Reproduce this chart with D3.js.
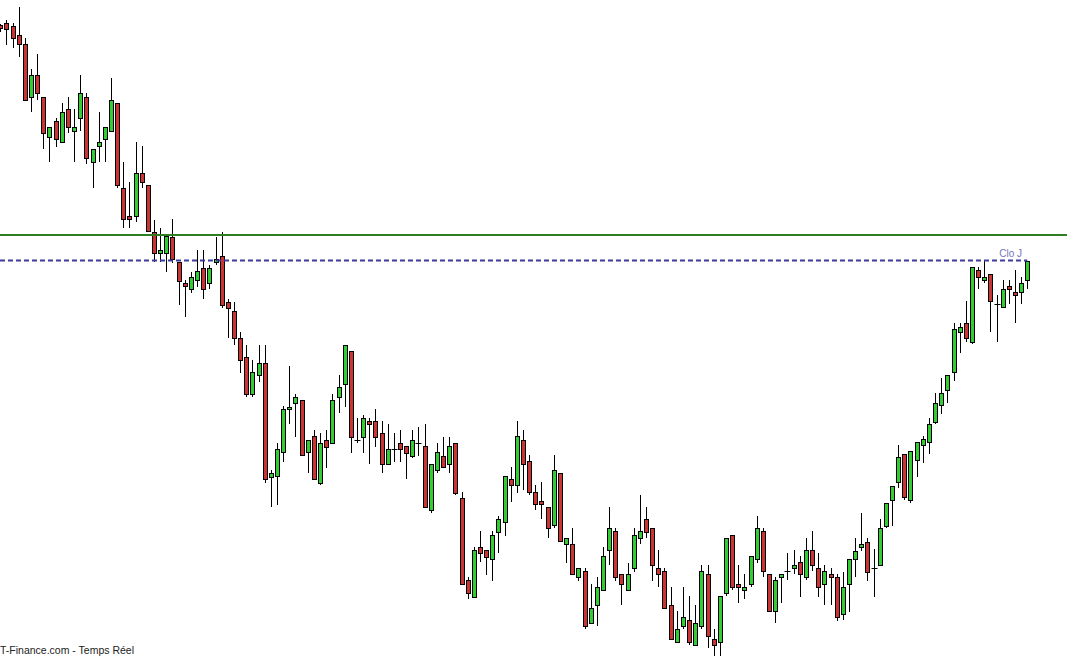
<!DOCTYPE html>
<html><head><meta charset="utf-8">
<script src="https://cdn.jsdelivr.net/npm/d3@7"></script>
<style>html,body{margin:0;padding:0;background:#fff;overflow:hidden}</style>
</head><body>
<svg id="chart" width="1067" height="656"></svg>
<script>
const open = [5975,5977,5974,5965,5956,5903,5925,5903,5863,5879,5858,5891,5869,5882,5903,5838,5854,5861,5869,5897,
5812,5784,5784,5827,5815,5768,5747,5747,5763,5738,5717,5711,5720,5732,5717,5738,5744,5698,5689,5662,
5643,5606,5625,5637,5523,5524,5548,5591,5597,5600,5548,5564,5517,5560,5557,5603,5616,5649,5560,5563,
5579,5579,5567,5536,5551,5557,5554,5544,5557,5554,5490,5530,5544,5536,5557,5502,5420,5403,5453,5450,
5441,5468,5478,5521,5515,5560,5539,5508,5499,5493,5475,5527,5456,5456,5423,5429,5377,5395,5410,5450,
5469,5426,5410,5432,5462,5481,5472,5432,5429,5395,5358,5374,5380,5355,5374,5426,5361,5358,5407,5465,
5416,5410,5416,5441,5469,5426,5389,5423,5429,5432,5438,5423,5450,5432,5416,5426,5423,5386,5416,5441,
5453,5458,5432,5435,5474,5500,5518,5546,5500,5540,5555,5558,5578,5595,5610,5628,5668,5677,5658,5730,
5720,5726,5696,5693,5714,5708,5708,5720];
const high = [5976,5980,5977,5993,5962,5931,5946,5903,5873,5882,5897,5903,5891,5925,5907,5851,5888,5873,5922,5897,
5838,5818,5858,5854,5815,5780,5772,5765,5781,5738,5720,5728,5750,5750,5735,5763,5768,5701,5698,5668,
5655,5640,5655,5655,5530,5557,5594,5634,5606,5600,5560,5570,5567,5570,5606,5625,5655,5649,5582,5585,
5582,5591,5579,5576,5567,5570,5554,5570,5573,5576,5536,5557,5563,5563,5557,5508,5423,5453,5469,5450,
5469,5484,5524,5533,5579,5570,5545,5515,5518,5493,5545,5527,5462,5472,5432,5432,5416,5423,5453,5493,
5472,5426,5437,5472,5505,5493,5472,5450,5432,5413,5389,5413,5404,5395,5435,5435,5371,5404,5462,5465,
5435,5426,5444,5484,5472,5426,5423,5426,5447,5450,5444,5462,5469,5447,5435,5432,5426,5428,5441,5462,
5487,5462,5451,5481,5497,5514,5555,5546,5549,5558,5564,5582,5607,5622,5625,5677,5677,5699,5733,5733,
5739,5726,5705,5720,5720,5730,5723,5739];
const low = [5968,5955,5952,5943,5900,5888,5900,5851,5838,5853,5858,5867,5838,5869,5836,5812,5838,5838,5869,5812,
5772,5772,5778,5812,5769,5738,5738,5728,5737,5695,5683,5707,5713,5701,5711,5735,5692,5662,5655,5627,
5603,5603,5618,5517,5493,5495,5538,5576,5563,5545,5527,5521,5515,5532,5557,5587,5593,5547,5557,5547,
5536,5553,5527,5536,5538,5538,5521,5542,5544,5493,5487,5527,5533,5527,5505,5416,5401,5403,5438,5425,
5419,5447,5464,5498,5507,5510,5505,5490,5481,5462,5472,5459,5437,5426,5419,5371,5377,5374,5410,5435,
5419,5395,5410,5428,5456,5462,5419,5413,5392,5361,5358,5371,5355,5355,5371,5352,5344,5344,5404,5410,
5397,5401,5413,5437,5423,5389,5377,5397,5420,5426,5403,5420,5429,5403,5395,5395,5379,5380,5388,5423,
5449,5419,5403,5435,5472,5474,5512,5500,5497,5523,5537,5546,5576,5586,5597,5619,5647,5658,5656,5711,
5717,5668,5658,5693,5696,5677,5696,5711];
const close = [5972,5971,5962,5956,5900,5925,5907,5867,5873,5861,5888,5873,5873,5907,5842,5851,5858,5873,5900,5815,
5781,5781,5827,5818,5769,5747,5750,5764,5741,5719,5714,5723,5729,5711,5732,5741,5695,5692,5662,5640,
5606,5628,5637,5521,5527,5551,5591,5593,5603,5545,5560,5521,5557,5553,5600,5613,5655,5563,5560,5582,
5576,5563,5536,5551,5551,5551,5547,5560,5557,5493,5536,5548,5533,5554,5507,5416,5407,5450,5447,5443,
5465,5481,5524,5515,5564,5536,5508,5496,5496,5472,5530,5459,5462,5426,5432,5374,5392,5413,5444,5472,
5423,5416,5426,5465,5469,5468,5435,5426,5392,5361,5371,5383,5358,5377,5429,5364,5355,5404,5462,5413,
5413,5413,5444,5472,5429,5389,5420,5426,5429,5435,5426,5450,5435,5413,5429,5423,5383,5413,5441,5449,
5456,5428,5432,5472,5497,5514,5543,5503,5549,5558,5561,5576,5597,5607,5625,5671,5673,5662,5733,5723,
5723,5699,5696,5711,5711,5705,5717,5739];
const resistanceLevel = 5765;
const closeLevel = 5739.5;
const closeLabel = "Clo J";
const sourceLabel = "T-Finance.com - Temps Réel";

const W = 1067, H = 656;
const svg = d3.select("#chart");
const x = d3.scaleLinear().domain([0, open.length - 1]).range([0.3, 1027.3]);
const y = d3.scaleLinear().domain([5344, 6000]).range([656, 0]);

const data = open.map((o, i) => ({i, o, h: high[i], l: low[i], c: close[i]}));

const g = svg.append("g");
const cx = d => Math.round(x(d.i));

// wicks
g.selectAll("line.wick").data(data).join("line")
  .attr("class", "wick")
  .attr("x1", d => cx(d) + 0.5).attr("x2", d => cx(d) + 0.5)
  .attr("y1", d => Math.round(y(d.h))).attr("y2", d => Math.round(y(d.l)))
  .attr("stroke", "#000").attr("stroke-width", 1);

// bodies
const bodies = data.filter(d => d.o !== d.c);
g.selectAll("rect.body").data(bodies).join("rect")
  .attr("class", "body")
  .attr("x", d => cx(d) - 2 + 0.5)
  .attr("width", 4)
  .attr("y", d => Math.round(y(Math.max(d.o, d.c))) + 0.5)
  .attr("height", d => Math.max(1, Math.round(y(Math.min(d.o, d.c))) - Math.round(y(Math.max(d.o, d.c)))))
  .attr("fill", d => d.c > d.o ? "#33cc33" : "#cc3333")
  .attr("stroke", "#000").attr("stroke-width", 1);

// doji
const doji = data.filter(d => d.o === d.c);
g.selectAll("line.doji").data(doji).join("line")
  .attr("class", "doji")
  .attr("x1", d => cx(d) - 2.5).attr("x2", d => cx(d) + 3.5)
  .attr("y1", d => Math.round(y(d.o)) + 0.5).attr("y2", d => Math.round(y(d.o)) + 0.5)
  .attr("stroke", "#000").attr("stroke-width", 1);

// resistance line
svg.append("line")
  .attr("x1", 0).attr("x2", W)
  .attr("y1", y(resistanceLevel)).attr("y2", y(resistanceLevel))
  .attr("stroke", "#2e7d22").attr("stroke-width", 2);

// previous close dashed line
svg.append("line")
  .attr("x1", 0).attr("x2", x(open.length - 1))
  .attr("y1", y(closeLevel)).attr("y2", y(closeLevel))
  .attr("stroke", "#3c3ca0").attr("stroke-width", 2)
  .attr("stroke-dasharray", "5,3");

svg.append("text")
  .attr("x", 1022).attr("y", y(closeLevel) - 3.5)
  .attr("text-anchor", "end")
  .attr("font-family", "Liberation Sans, Arial, sans-serif")
  .attr("font-size", 10)
  .attr("fill", "#7474bb")
  .text(closeLabel);

svg.append("text")
  .attr("x", 0).attr("y", 654)
  .attr("font-family", "Liberation Sans, Arial, sans-serif")
  .attr("font-size", 10.5)
  .attr("fill", "#222")
  .text(sourceLabel);
</script>
</body></html>
